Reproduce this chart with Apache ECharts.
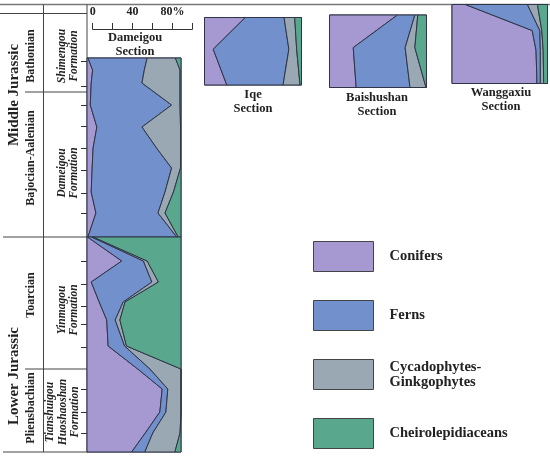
<!DOCTYPE html>
<html>
<head>
<meta charset="utf-8">
<style>
  html, body { margin: 0; padding: 0; background: #fff; }
  #chart { width: 550px; height: 456px; }
</style>
<script src="https://cdn.jsdelivr.net/npm/echarts@6.0.0/dist/echarts.min.js"></script>
</head>
<body>
<div id="chart"></div>
<script>
// plant groups, bottom of stack first (left to right in every column)
var taxa = ['Conifers', 'Ferns', 'Cycadophytes-Ginkgophytes', 'Cheirolepidiaceans'];
var taxaColors = ['#a698d0', '#7190cc', '#99a8b3', '#59a78c'];

// Dameigou section, depth from top of column (scaled units, 0 - 394)
var dmgUpperDepth   = [0, 12, 25, 47, 69, 90, 110, 134, 155, 179];
var dmgUpperConif   = [1, 6, 4.5, 3.5, 10.5, 6.5, 5.5, 4.5, 9.5, 1];
var dmgUpperFerns   = [63, 55, 54, 86.5, 48, 67.5, 84.5, 78.5, 66, 94.5];
var dmgUpperCycad   = [30, 38, 40.5, 9, 41, 25.5, 9.5, 9, 7.5, 1.5];
var dmgUpperCheiro  = [6, 1, 1, 1, 0.5, 0.5, 0.5, 8, 17, 3];

var dmgLowerDepth   = [179, 203, 224, 244, 262, 288, 311, 331, 354, 375, 394];
var dmgLowerConif   = [0.5, 37, 4.5, 13, 21, 22.5, 54, 80, 77.5, 62, 47.5];
var dmgLowerFerns   = [4.5, 23, 64.5, 25.5, 9, 17.5, 13, 6, 6.5, 8, 14];
var dmgLowerCycad   = [1.5, 4, 7, 2, 5, 2, 33, 14, 16, 29, 32];
var dmgLowerCheiro  = [93.5, 36, 24, 59.5, 65, 58, 0, 0, 0, 1, 6.5];

// sample horizons (ticks on the left of the Dameigou column)
var dmgSampleDepth = [3, 28, 47, 68, 90, 112, 135, 155, 203, 226, 248, 266, 289, 331, 354, 375];

// small sections, depth 0 (top) - 100 (bottom)
var iqeDepth   = [0, 47, 100];
var iqeConif   = [42, 9, 23];
var iqeFerns   = [40, 78, 58];
var iqeCycad   = [11, 8, 17.5];
var iqeCheiro  = [7, 5, 1.5];

var baiDepth   = [0, 45, 100];
var baiConif   = [70, 24.5, 27.5];
var baiFerns   = [18, 53.5, 55.5];
var baiCycad   = [3, 10, 16.5];
var baiCheiro  = [9, 12, 0.5];

var wgxDepth   = [0, 33, 58, 100];
var wgxConif   = [14, 84, 88, 89];
var wgxFerns   = [65, 8, 4.5, 3.5];
var wgxCycad   = [10.5, 2, 3, 3.5];
var wgxCheiro  = [10.5, 6, 4.5, 4];

// percentage scale above the Dameigou column
var scaleTicks  = [0, 20, 40, 60, 80, 100];
var scaleLabels = [0, 40, 80];

var serif = '"Liberation Serif", "DejaVu Serif", serif';
var ink = '#222';
var edge = '#2f3546';

// turn the per-group percentages into [left, right, depth] rows
function stackRows(depth, groups) {
  var base = depth.map(function () { return 0; });
  return groups.map(function (vals) {
    return depth.map(function (d, i) {
      var l = base[i];
      base[i] = l + vals[i];
      return [l, base[i], d];
    });
  });
}

// one filled polygon per band, drawn on the first item of the series
function bandRender(params, api) {
  if (params.dataIndexInside !== 0) return;
  var n = params.dataInsideLength;
  var pts = [];
  for (var i = 0; i < n; i++) pts.push(api.coord([api.value(0, i), api.value(2, i)]));
  for (var j = n - 1; j >= 0; j--) pts.push(api.coord([api.value(1, j), api.value(2, j)]));
  return {
    type: 'polygon',
    shape: { points: pts },
    style: { fill: api.visual('color'), stroke: edge, lineWidth: 1 }
  };
}

var sections = [
  { grid: 0, depth: dmgUpperDepth, groups: [dmgUpperConif, dmgUpperFerns, dmgUpperCycad, dmgUpperCheiro] },
  { grid: 0, depth: dmgLowerDepth, groups: [dmgLowerConif, dmgLowerFerns, dmgLowerCycad, dmgLowerCheiro] },
  { grid: 2, depth: iqeDepth, groups: [iqeConif, iqeFerns, iqeCycad, iqeCheiro] },
  { grid: 3, depth: baiDepth, groups: [baiConif, baiFerns, baiCycad, baiCheiro] },
  { grid: 4, depth: wgxDepth, groups: [wgxConif, wgxFerns, wgxCycad, wgxCheiro] }
];

var series = [];
sections.forEach(function (sec) {
  stackRows(sec.depth, sec.groups).forEach(function (rows, k) {
    series.push({
      type: 'custom',
      name: taxa[k],
      xAxisIndex: sec.grid,
      yAxisIndex: sec.grid,
      data: rows,
      encode: { x: [0, 1], y: 2 },
      itemStyle: { color: taxaColors[k] },
      renderItem: bandRender,
      silent: true
    });
  });
});

var panelBorder = { show: true, borderColor: edge, borderWidth: 1, backgroundColor: 'transparent' };

function hiddenX(i) {
  return { gridIndex: i, type: 'value', min: 0, max: 100, show: false };
}
function hiddenY(i, max) {
  return { gridIndex: i, type: 'value', min: 0, max: max, inverse: true, show: false };
}

function vText(text, x, y, size, italic) {
  return {
    type: 'text', x: x, y: y, rotation: Math.PI / 2,
    style: {
      text: text, fill: ink, align: 'center', verticalAlign: 'middle',
      fontFamily: serif, fontSize: size, fontWeight: 'bold',
      fontStyle: italic ? 'italic' : 'normal', lineHeight: size + 1
    }
  };
}
function hText(text, x, y) {
  return {
    type: 'text', x: x, y: y,
    style: {
      text: text, fill: ink, align: 'center', verticalAlign: 'middle',
      fontFamily: serif, fontSize: 12.5, fontWeight: 'bold', lineHeight: 14
    }
  };
}
function rule(x1, y1, x2, y2, color, w) {
  return {
    type: 'line', shape: { x1: x1, y1: y1, x2: x2, y2: y2 },
    style: { stroke: color || '#444', lineWidth: w || 1 }, silent: true
  };
}

var option = {
  animation: false,
  backgroundColor: '#fff',
  grid: [
    { left: 87, top: 58, width: 94, height: 394, show: true, borderColor: edge, borderWidth: 1 },
    { left: 92.7, top: 28, width: 99.6, height: 1 },
    Object.assign({ left: 204.5, top: 17.5, width: 97, height: 67.5 }, panelBorder),
    Object.assign({ left: 329.5, top: 15, width: 97, height: 72.5 }, panelBorder),
    Object.assign({ left: 452, top: 4.5, width: 95.5, height: 79 }, panelBorder)
  ],
  xAxis: [
    hiddenX(0),
    {
      gridIndex: 1, type: 'value', position: 'top', min: 0, max: 100, interval: 20,
      axisLine: { show: true, lineStyle: { color: '#333', width: 1 } },
      axisTick: { show: true, length: 6, customValues: scaleTicks, lineStyle: { color: '#333' } },
      axisLabel: {
        show: true, customValues: scaleLabels, margin: 10,
        formatter: function (v) { return v === 80 ? '80%' : String(v); },
        color: ink, fontFamily: serif, fontWeight: 'bold', fontSize: 12
      },
      splitLine: { show: false }
    },
    hiddenX(2), hiddenX(3), hiddenX(4)
  ],
  yAxis: [
    {
      gridIndex: 0, type: 'value', min: 0, max: 394, inverse: true,
      axisLine: { show: true, lineStyle: { color: '#333' } },
      axisTick: { show: true, length: 6, customValues: dmgSampleDepth, lineStyle: { color: '#333' } },
      axisLabel: { show: false },
      splitLine: { show: false }
    },
    { gridIndex: 1, type: 'value', show: false },
    hiddenY(2, 100), hiddenY(3, 100), hiddenY(4, 100)
  ],
  legend: {
    data: taxa,
    orient: 'vertical',
    left: 313, top: 241,
    padding: 0,
    itemWidth: 60, itemHeight: 30, itemGap: 28,
    icon: 'rect',
    selectedMode: false,
    itemStyle: { borderColor: '#444', borderWidth: 1 },
    formatter: function (name) { return name.replace('-', '-\n'); },
    textStyle: {
      color: ink, fontFamily: serif, fontWeight: 'bold', fontSize: 14.5,
      lineHeight: 15, padding: [0, 0, 0, 11]
    }
  },
  graphic: [
    // frame of the stratigraphic table
    rule(0, 4.5, 550, 4.5, '#777', 1.5),
    rule(0, 13.5, 87, 13.5, '#444'),
    rule(43.5, 4.5, 43.5, 452, '#444'),
    rule(87, 4.5, 87, 58, '#444'),
    rule(25, 92, 87, 92, '#444'),
    rule(3, 237, 87, 237, '#444'),
    rule(25, 369, 87, 369, '#444'),
    rule(3, 452, 87, 452, '#444'),
    // chronostratigraphy
    vText('Middle Jurassic', 14, 95, 15),
    vText('Lower Jurassic', 14, 376, 15),
    vText('Bathonian', 31, 56, 12),
    vText('Bajocian-Aalenian', 31, 158, 12),
    vText('Toarcian', 31, 295, 12),
    vText('Pliensbachian', 31, 408, 12),
    // lithostratigraphy
    vText('Shimengou\nFormation', 68, 56, 11.5, true),
    vText('Dameigou\nFormation', 68, 173, 11.5, true),
    vText('Yinmagou\nFormation', 68, 310, 11.5, true),
    vText('Tianshuigou\nHuoshaoshan\nFormation', 63, 412, 11.5, true),
    // section names
    hText('Dameigou\nSection', 135, 45),
    hText('Iqe\nSection', 253, 102),
    hText('Baishushan\nSection', 377, 105),
    hText('Wanggaxiu\nSection', 501, 100)
  ],
  series: series
};

var chart = echarts.init(document.getElementById('chart'), null, { renderer: 'canvas' });
chart.setOption(option);
</script>
</body>
</html>
